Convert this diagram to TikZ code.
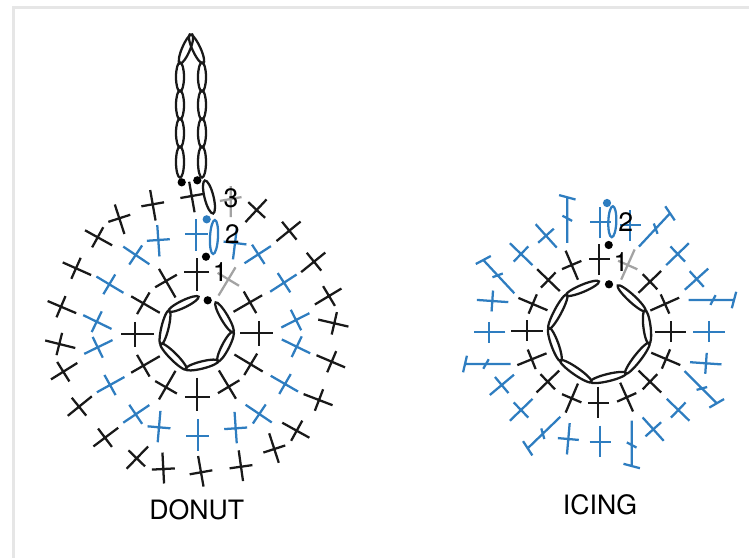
\documentclass[tikz,border=0pt]{standalone}
\usepackage{fontspec}
\setmainfont{TeX Gyre Heros}
\definecolor{stblue}{HTML}{2E7DC0}
\definecolor{stgrey}{HTML}{A3A3A3}
\definecolor{frameline}{HTML}{E6E6E6}
\newcommand{\lensst}[5]{%
	\pgfmathsetmacro\lrot{atan2(#2-#4,#3-#1)}%
	\pgfmathsetmacro\lhalf{veclen(#3-#1,#4-#2)/2}%
	\draw[lens, shift={({(#1+#3)/2},{(#2+#4)/2})}, rotate=\lrot] (0,0) ellipse (\lhalf*1.04 and #5);}

\begin{document}
\begin{tikzpicture}[
		x=0.75pt, y=-0.75pt,
% Stitch styles
		stitch/.style={line width=1.7pt, black!90},
		bluest/.style={line width=1.7pt, stblue},
		greyst/.style={line width=1.7pt, stgrey},
		lens/.style={line width=1.7pt, black!90},
		frame/.style={line width=2.2pt, frameline},
% Marks and texts
		stdot/.style={circle
							    , fill=black
							    , inner sep=0pt
							    , minimum size=6.2pt},
		bluedot/.style={stdot, fill=stblue},
		numlabel/.style={font=\fontsize{20}{23}\selectfont, inner sep=0pt},
		figtitle/.style={font=\fontsize{20}{24}\selectfont, inner sep=0pt}
	]
	\useasboundingbox (0,0) rectangle (749,558);
	\draw[frame] (13.5,558) -- (13.5,7.5) -- (749,7.5);
%% Donut: ring
	\foreach \xa/\ya/\xb/\yb in {198/297/169/311, 169/311/161/344, 161/344/186/369,
			186/369/218/361, 218/361/233/332, 233/332/216/303}
		{\lensst{\xa}{\ya}{\xb}{\yb}{3.6}}
%% Donut: hanging loop
	\foreach \xa/\ya/\xb/\yb in {180/63/180/91, 180/91/180/119, 180/119/180/147, 180/147/180/177,
			202/63/202/91, 202/91/202/119, 202/119/202/147, 202/147/202/177,
			180/63/192/35, 203/63/190/35}
		{\lensst{\xa}{\ya}{\xb}{\yb}{4}}
	\draw[lens, shift={(209,197)}, rotate=14] (0,0) ellipse (4.5 and 17);
	\draw[lens, stblue, shift={(214,237)}, rotate=-3] (0,0) ellipse (4 and 17);
%% Donut: inner row
	\foreach \x/\y/\a in {196.7/271.7/-90, 166/281/-120, 143.3/303.3/-150, 135/334.3/180,
			143.3/365.7/150, 166/387.3/120, 197.3/396.7/90, 228.7/386.7/59,
			250.7/364.3/31, 259/333.3/0, 250/302.3/-30}
		\draw[stitch, shift={(\x,\y)}] (\a+180:19) -- (\a:14) (\a+90:12.5) -- (\a-90:12.5);
	\draw[greyst, shift={(228.3,279.3)}] (-59+180:19) -- (-59:14) (-59+90:12.5) -- (-59-90:12.5);
%% Donut: middle row
	\foreach \x/\y/\a in {196/234/-90, 158.3/240/-94, 135.7/255/-146, 109.3/284.3/-149,
			96.7/321.7/-154, 97.7/347.3/154, 110/385/151, 135.7/414.3/146,
			159/427.3/95, 197.7/435.7/90, 235.7/428.3/86, 259.3/414/34,
			285/384/30, 296.7/346.7/26, 296/320/-27, 284/282.7/-33,
			258.3/254.3/-33, 235/243/-83}
		\draw[bluest, shift={(\x,\y)}] (\a+180:16.5) -- (\a:15) (\a+90:11.5) -- (\a-90:11.5);
%% Donut: outer row
	\foreach \x/\y/\a in {191.7/196/-100, 152.7/204.3/-100, 119.3/218.3/-108, 97.7/237.3/-151,
			76/268.3/-156, 61/306.7/-157, 59.3/344/-166, 63.3/371.7/148,
			79/406.7/141, 105/437.7/143, 136.7/458.3/134, 163.3/469/87,
			201/472.3/80, 241/466.7/82, 274.3/449/72, 296.7/430.7/29,
			319/400/21, 331.7/361.7/23, 334.3/323.3/13, 329/296/-31,
			314/261.7/-39, 289.3/230.7/-39, 256.7/210/-47}
		\draw[stitch, shift={(\x,\y)}] (\a+180:16.5) -- (\a:14.5) (\a+90:11.5) -- (\a-90:11.5);
	\draw[greyst, shift={(230.7,199)}] (90:18) -- (-90:13) (170:11) -- (-10:11);
%% Donut: marks and texts
	\node[stdot] (dstart1) at (181.7,182.3) {};
	\node[stdot] (dstart2) at (197.3,180.3) {};
	\node[bluedot] (dstart3) at (206.7,219.3) {};
	\node[stdot] (dstart4) at (206,256.7) {};
	\node[stdot] (dstart5) at (207.7,300.3) {};
	\node[numlabel] (dlab3) at (231,198.3) {3};
	\node[numlabel] (dlab2) at (232.3,234) {2};
	\node[numlabel] (dlab1) at (220.3,272.3) {1};
	\node[figtitle] (donut) at (196.7,510) {DONUT};
%% Icing: ring
	\foreach \xa/\ya/\xb/\yb in {598.3/281.7/566.7/295, 566.7/295/549/328.3, 549/328.3/560.7/360.7,
			560.7/360.7/591/381.7, 591/381.7/625.7/373.3, 625.7/373.3/649/343.3,
			649/343.3/645/310.7, 645/310.7/618.3/286}
		{\lensst{\xa}{\ya}{\xb}{\yb}{3.6}}
	\draw[lens, stblue, shift={(612.3,221.7)}, rotate=-2] (0,0) ellipse (4 and 15.5);
%% Icing: inner row
	\foreach \x/\y/\a in {599/259/-90, 571.7/265/-113, 548.3/280/-136, 532.7/304/-157,
			526.7/330.7/180, 531.7/359.3/158, 547.7/381.7/136, 571.7/398.3/113,
			598.3/402.7/90, 626.7/397.3/66, 650/381.7/44, 666/359/23,
			670.7/331.7/0, 665/304/-24, 650/281.7/-44}
		\draw[stitch, shift={(\x,\y)}] (\a+180:16) -- (\a:15.5) (\a+90:10.5) -- (\a-90:10.5);
	\draw[greyst, shift={(627.7,265)}] (-66+180:16) -- (-66:17) (-66+90:10.5) -- (-66-90:10.5);
%% Icing: outer row, short stitches
	\foreach \x/\y/\a in {600/222.3/-90, 630/225/-90, 546/235.7/-132, 521/254/-136,
			492.3/301/-176, 489.3/332.3/180, 677.7/254/-44, 696.7/279/-42,
			709.3/331.7/0, 501.7/385/140, 521/410/136, 568.3/439/95,
			600/441.7/90, 653.3/429.3/48, 678.3/410/44, 706/363.3/4}
		\draw[bluest, shift={(\x,\y)}] (\a+180:16) -- (\a:15.5) (\a+90:10.5) -- (\a-90:10.5);
%% Icing: outer row, tall stitches
	\foreach \x/\y/\a/\b/\c in {567.3/197.3/-90/15/28, 483.3/260/-133/-28/-20, 670/213.3/-47/56/70,
			734/300/0/105/118, 465/364/180/103/120, 527.7/448.3/136/57/74,
			631.7/466/90/15/28, 716.7/403.3/45/-30/-15}
		\draw[bluest, shift={(\x,\y)}] (0,0) -- (\a+180:45.5) (\b:8.5) -- (\b+180:8.5)
			(\a+180:21) ++(\c:5.5) -- ++(\c+180:11);
%% Icing: marks and texts
	\node[stdot] (istart1) at (609,284.3) {};
	\node[stdot] (istart2) at (608.7,245) {};
	\node[bluedot] (istart3) at (607,203) {};
	\node[numlabel] (ilab2) at (625.7,222.3) {2};
	\node[numlabel] (ilab1) at (621,261.7) {1};
	\node[figtitle] (icing) at (600,505) {ICING};
\end{tikzpicture}
\end{document}
